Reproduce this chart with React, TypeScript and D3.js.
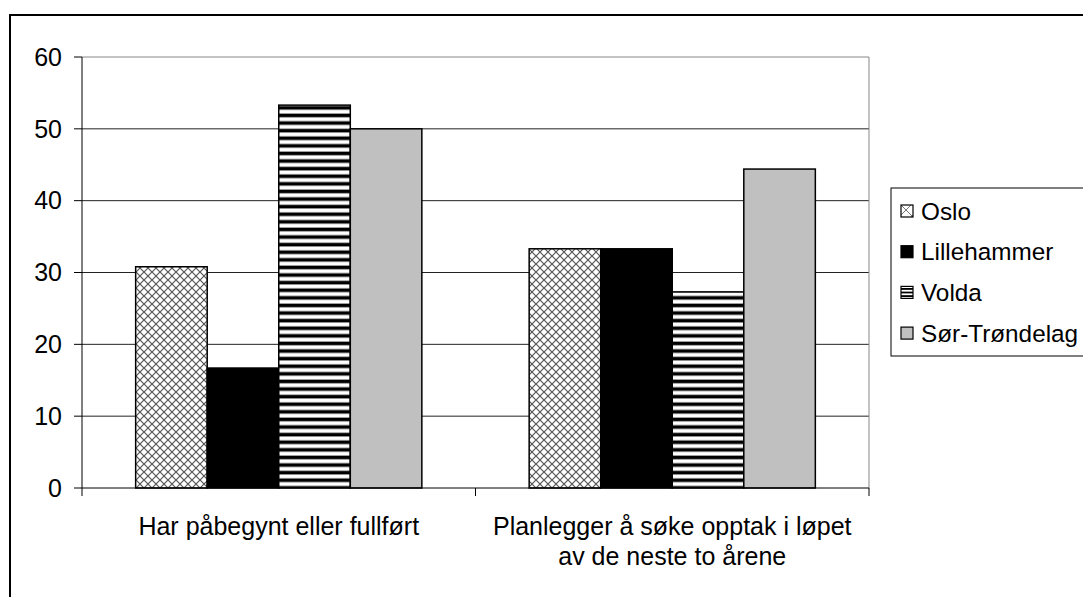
import React from "react";
import * as d3 from "d3";

const categories: string[][] = [
  ["Har påbegynt eller fullført"],
  ["Planlegger å søke opptak i løpet", "av de neste to årene"],
];
const seriesNames = ["Oslo", "Lillehammer", "Volda", "Sør-Trøndelag"];
const oslo = [30.8, 33.3];
const lillehammer = [16.7, 33.3];
const volda = [53.3, 27.3];
const sorTrondelag = [50, 44.4];
const yTicks = [0, 10, 20, 30, 40, 50, 60];

const seriesValues = [oslo, lillehammer, volda, sorTrondelag];
const fills = ["url(#cross)", "#000000", "url(#hstripe)", "#c0c0c0"];

export default function App() {
  const left = 82, right = 869, top = 57, bottom = 488;
  const x0 = d3.scaleBand<number>().domain([0, 1]).range([left, right]).paddingInner(0).paddingOuter(0);
  const y = d3.scaleLinear().domain([0, 60]).range([bottom, top]);
  const bw = x0.bandwidth();
  const groupW = (bw * 4) / 5.5;
  const x1 = d3.scaleBand<number>().domain([0, 1, 2, 3]).range([0, groupW]).padding(0);
  const font = "Liberation Sans, Arial, sans-serif";
  const fs = 25;

  return (
    <svg width={1083} height={597} style={{ position: "absolute", left: 0, top: 0 }} fontFamily={font}>
      <defs>
        <pattern id="cross" patternUnits="userSpaceOnUse" width={8} height={8}>
          <rect width={8} height={8} fill="#fff" />
          <path d="M0,0 L8,8 M8,0 L0,8" stroke="#555" strokeWidth={1.2} />
        </pattern>
        <pattern id="hstripe" patternUnits="userSpaceOnUse" width={8} height={7.6}>
          <rect width={8} height={7.6} fill="#fff" />
          <rect y={0} width={8} height={3} fill="#000" />
          <rect y={3} width={8} height={0.8} fill="#888" />
          <rect y={6.8} width={8} height={0.8} fill="#888" />
        </pattern>
        <pattern id="crossSmall" patternUnits="userSpaceOnUse" width={12} height={12}>
          <rect width={12} height={12} fill="#fff" />
          <path d="M0,0 L12,12 M12,0 L0,12" stroke="#777" strokeWidth={1} />
        </pattern>
        <pattern id="stripeSmall" patternUnits="userSpaceOnUse" width={12} height={3.6}>
          <rect width={12} height={3.6} fill="#fff" />
          <rect width={12} height={1.8} fill="#000" />
        </pattern>
      </defs>
      <rect x={0} y={0} width={1083} height={597} fill="#fff" />
      <rect x={10} y={15} width={1200} height={700} fill="none" stroke="#000" strokeWidth={2} />

      {/* gridlines */}
      {yTicks.filter((t) => t > 0).map((t) => (
        <line key={t} x1={left} x2={right} y1={y(t)} y2={y(t)} stroke={t === 60 ? "#888" : "#222"} strokeWidth={1} />
      ))}
      <line x1={right} x2={right} y1={top} y2={bottom} stroke="#888" strokeWidth={1} />

      {/* bars */}
      {categories.map((_, ci) => {
        const gx = (x0(ci) as number) + (bw - groupW) / 2;
        return seriesValues.map((vals, si) => (
          <rect
            key={`${ci}-${si}`}
            x={gx + (x1(si) as number)}
            y={y(vals[ci])}
            width={x1.bandwidth()}
            height={bottom - y(vals[ci])}
            fill={fills[si]}
            stroke="#000"
            strokeWidth={1.5}
          />
        ));
      })}

      {/* axes */}
      <line x1={left} x2={left} y1={top} y2={bottom} stroke="#000" strokeWidth={1} />
      <line x1={left} x2={right} y1={bottom} y2={bottom} stroke="#000" strokeWidth={1} />
      {yTicks.map((t) => (
        <g key={t}>
          <line x1={left - 8} x2={left} y1={y(t)} y2={y(t)} stroke="#000" />
          <text x={62} y={y(t)} dy="0.35em" textAnchor="end" fontSize={fs}>{t}</text>
        </g>
      ))}
      {[0, 1, 2].map((i) => {
        const xx = left + i * bw;
        return <line key={i} x1={xx} x2={xx} y1={bottom} y2={bottom + 8} stroke="#000" />;
      })}
      {categories.map((lines, ci) => {
        const cx = (x0(ci) as number) + bw / 2;
        return (
          <text key={ci} x={cx} textAnchor="middle" fontSize={fs}>
            {lines.map((l, li) => (
              <tspan key={li} x={cx} y={535 + li * 30}>{l}</tspan>
            ))}
          </text>
        );
      })}

      {/* legend */}
      <rect x={891} y={188} width={300} height={168} fill="#fff" stroke="#000" strokeWidth={1} />
      {seriesNames.map((n, i) => {
        const cy = 211 + i * 40.7;
        const sf = i === 0 ? "url(#crossSmall)" : i === 1 ? "#000" : i === 2 ? "url(#stripeSmall)" : "#c0c0c0";
        return (
          <g key={n}>
            <rect x={901} y={cy - 6} width={12} height={12} fill={sf} stroke="#000" strokeWidth={1.2} />
            <text x={921} y={cy} dy="0.35em" fontSize={24.3}>{n}</text>
          </g>
        );
      })}
    </svg>
  );
}
